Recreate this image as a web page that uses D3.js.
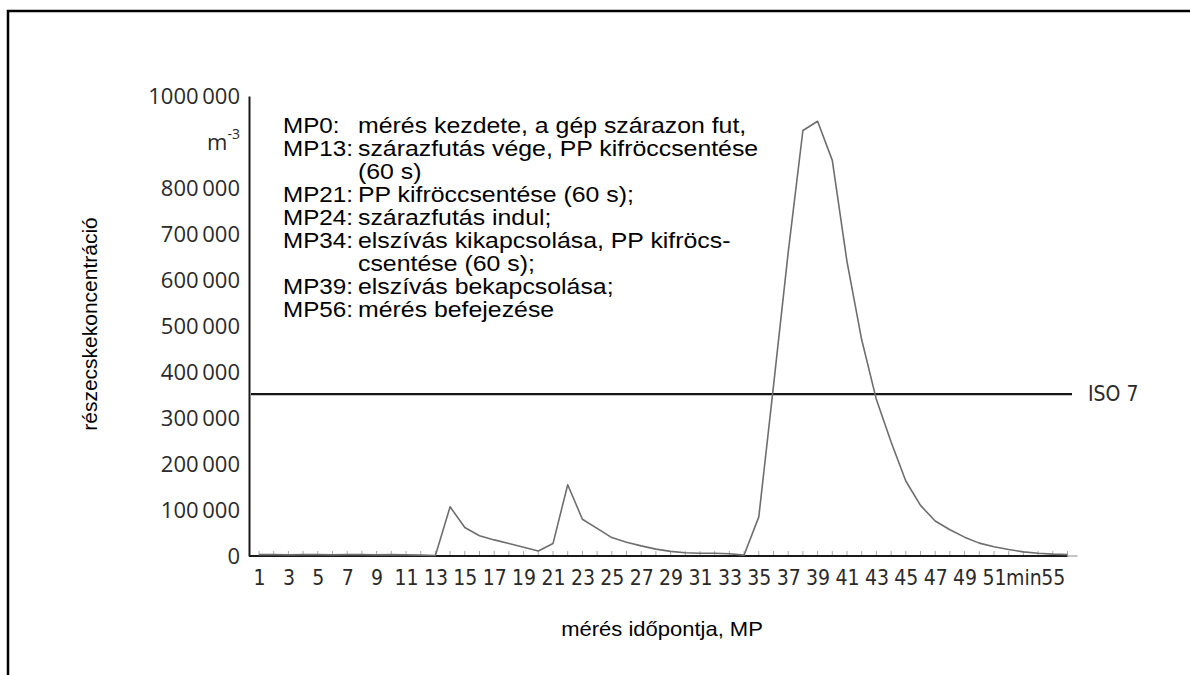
<!DOCTYPE html>
<html>
<head>
<meta charset="utf-8">
<script src="https://cdn.jsdelivr.net/npm/d3@7"></script>
<style>
  body { margin: 0; background: #fff; }
  svg { display: block; }
</style>
</head>
<body>
<svg id="chart"></svg>
<script>
// measuring points (MP) and particle concentration per m3
var mpPoints = [1,2,3,4,5,6,7,8,9,10,11,12,13,14,15,16,17,18,19,20,21,22,23,24,25,26,27,28,
                29,30,31,32,33,34,35,36,37,38,39,40,41,42,43,44,45,46,47,48,49,50,51,52,53,54,55,56];
var concentration = [3000,3000,2500,3000,3000,2500,3000,3000,2500,3000,2500,2000,1000,107000,62000,44000,
                     35000,27000,19000,11000,27000,155000,80000,60000,40000,30000,22000,15000,10000,7000,
                     6000,6000,5000,2000,85000,370000,660000,925000,945000,860000,640000,470000,340000,248000,
                     163000,110000,76000,57000,41000,28000,20000,14000,9000,6000,4000,3000];
var isoLimit = 352000;
var yTicks = [0,100000,200000,300000,400000,500000,600000,700000,800000,1000000];
var xTicks = [1,3,5,7,9,11,13,15,17,19,21,23,25,27,29,31,33,35,37,39,41,43,45,47,49,51,53,55];
var notes = [
  ["MP0:", "mérés kezdete, a gép szárazon fut,"],
  ["MP13:", "szárazfutás vége, PP kifröccsentése"],
  ["", "(60 s)"],
  ["MP21:", "PP kifröccsentése (60 s);"],
  ["MP24:", "szárazfutás indul;"],
  ["MP34:", "elszívás kikapcsolása, PP kifröcs-"],
  ["", "csentése (60 s);"],
  ["MP39:", "elszívás bekapcsolása;"],
  ["MP56:", "mérés befejezése"]
];

var W = 1190, H = 675;
var svg = d3.select("#chart").attr("width", W).attr("height", H);

svg.append("rect").attr("width", W).attr("height", H).attr("fill", "#fff");

// frame (top + left edge only visible)
svg.append("path")
   .attr("d", "M8," + H + "V11H" + W)
   .attr("fill", "none")
   .attr("stroke", "#000")
   .attr("stroke-width", 2.5);

var axisX = 249;
var xScale = d3.scaleLinear().domain([1, 55]).range([259, 1052.8]);
var yScale = d3.scaleLinear().domain([0, 1000000]).range([556, 96]);

var scanFont = "'Open Sans', 'DejaVu Sans', sans-serif";
var narrowFont = "'Liberation Sans Narrow', 'DejaVu Sans Condensed', sans-serif";

// y axis
var yAxis = d3.axisLeft(yScale)
              .tickValues(yTicks)
              .tickSize(0)
              .tickSizeOuter(0)
              .tickPadding(9)
              .tickFormat(function(d){
                if (d === 0) return "0";
                var k = Math.floor(d / 1000);
                return k + "\u2009000";
              });

var yG = svg.append("g")
            .attr("transform", "translate(" + axisX + ",0)")
            .call(yAxis);
yG.select(".domain").attr("stroke", "#1a1a1a").attr("stroke-width", 2);
yG.selectAll("text")
  .attr("font-family", scanFont)
  .attr("font-size", 22)
  .attr("fill", "#2a2a2a");

// unit label in place of 900 000
var unit = svg.append("text")
              .attr("x", 240)
              .attr("y", yScale(900000) + 8)
              .attr("text-anchor", "end")
              .attr("font-family", scanFont)
              .attr("font-size", 22)
              .attr("fill", "#2a2a2a");
unit.append("tspan").text("m");
unit.append("tspan").attr("dy", -11).attr("font-size", 14).text("-3");

// x axis baseline
svg.append("line")
   .attr("x1", axisX).attr("x2", xScale(56))
   .attr("y1", yScale(0)).attr("y2", yScale(0))
   .attr("stroke", "#1a1a1a").attr("stroke-width", 2);
svg.append("line")
   .attr("x1", xScale(56)).attr("x2", xScale(56) + 10)
   .attr("y1", yScale(0)).attr("y2", yScale(0))
   .attr("stroke", "#888").attr("stroke-width", 1);

// small ticks above the baseline
svg.append("g").selectAll("line")
   .data(d3.range(1, 57))
   .enter()
   .append("line")
   .attr("x1", function(d){ return xScale(d); })
   .attr("x2", function(d){ return xScale(d); })
   .attr("y1", yScale(0) - 1)
   .attr("y2", yScale(0) - 5)
   .attr("stroke", "#aaa")
   .attr("stroke-width", 1);

var xAxis = d3.axisBottom(xScale)
              .tickValues(xTicks)
              .tickSize(0)
              .tickPadding(14)
              .tickFormat(function(d){ return d === 53 ? "min" : d; });

var xG = svg.append("g")
            .attr("transform", "translate(0," + yScale(0) + ")")
            .call(xAxis);
xG.select(".domain").remove();
xG.selectAll("text")
  .attr("font-family", narrowFont)
  .attr("font-size", 21)
  .attr("fill", "#2a2a2a");

// ISO 7 limit line
svg.append("line")
   .attr("x1", axisX + 2).attr("x2", 1072)
   .attr("y1", yScale(isoLimit)).attr("y2", yScale(isoLimit))
   .attr("stroke", "#151515").attr("stroke-width", 2.2);
svg.append("text")
   .attr("x", 1088)
   .attr("y", yScale(isoLimit) + 7)
   .attr("font-family", narrowFont)
   .attr("font-size", 21)
   .attr("fill", "#2a2a2a")
   .text("ISO 7");

// concentration curve
var line = d3.line()
             .x(function(d){ return xScale(d[0]); })
             .y(function(d){ return yScale(d[1]); });

svg.append("path")
   .datum(d3.zip(mpPoints, concentration))
   .attr("d", line)
   .attr("fill", "none")
   .attr("stroke", "#6e6e6e")
   .attr("stroke-width", 1.6)
   .attr("stroke-linejoin", "round");

// notes
var noteG = svg.append("g")
               .attr("font-family", "'Liberation Sans', Arial, sans-serif")
               .attr("font-size", 22)
               .attr("fill", "#000");

var noteRows = noteG.selectAll("g")
                    .data(notes)
                    .enter()
                    .append("g")
                    .attr("transform", function(d,i){ return "translate(0," + (133 + i * 23) + ")"; });

noteRows.append("text")
        .attr("transform", "translate(283,0) scale(1.1,1)")
        .text(function(d){ return d[0]; });
noteRows.append("text")
        .attr("transform", "translate(358,0) scale(1.13,1)")
        .text(function(d){ return d[1]; });

// axis titles
svg.append("text")
   .attr("transform", "translate(662,636) scale(1.1,1)")
   .attr("text-anchor", "middle")
   .attr("font-family", "'Liberation Sans', Arial, sans-serif")
   .attr("font-size", 20)
   .attr("fill", "#000")
   .text("mérés időpontja, MP");

svg.append("text")
   .attr("transform", "translate(97,324) rotate(-90)")
   .attr("text-anchor", "middle")
   .attr("font-family", "'Liberation Sans', Arial, sans-serif")
   .attr("font-size", 21)
   .attr("fill", "#000")
   .text("részecskekoncentráció");
</script>
</body>
</html>
